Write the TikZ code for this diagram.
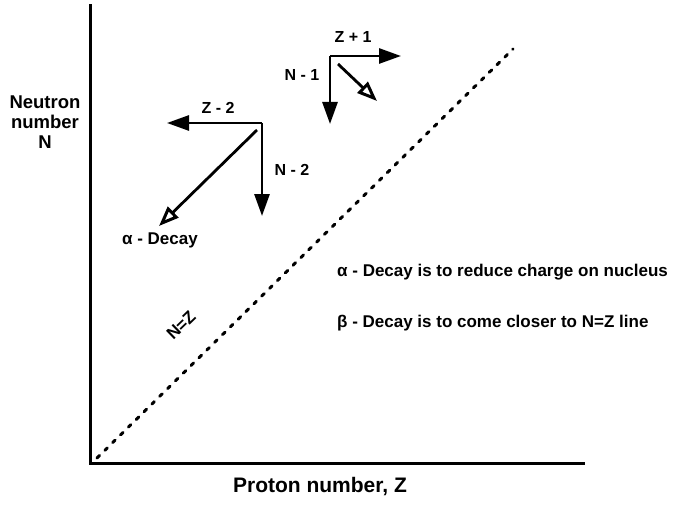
\documentclass[tikz,border=0pt]{standalone}
\usepackage{fontspec}
\setmainfont{Liberation Sans}
\usepackage{tikz}
\usetikzlibrary{arrows.meta}

\begin{document}
\begin{tikzpicture}[x=1pt, y=-1pt,
  lbl/.style={font=\fontsize{16}{20}\selectfont\bfseries, inner sep=1pt},
  note/.style={font=\fontsize{17}{20}\selectfont\bfseries, inner sep=1pt},
  axisline/.style={line width=3pt, line cap=rect},
  nzline/.style={line width=3pt, dash pattern=on 3.5pt off 7.5pt, line cap=round},
  decay/.style={line width=2.8pt, -{Triangle[length=22pt, width=15pt]}},
  decayopen/.style={line width=2.8pt, -{Triangle[open, length=20pt, width=15pt, line width=3pt]}}]
  \useasboundingbox (0,0) rectangle (674,505);
  % axes
  \coordinate (top) at (90,6);
  \coordinate (origin) at (90,463);
  \coordinate (right) at (583,463);
  \draw[axisline] (top) -- (origin) -- (right);
  \node[note, font=\fontsize{18.5}{20}\selectfont\bfseries, align=center] (ylab) at (45,122) {Neutron\\number\\N};
  \node[note, font=\fontsize{21}{24}\selectfont\bfseries] (xlab) at (320,487) {Proton number, Z};
  % N = Z line
  \coordinate (nzstart) at (97,458);
  \coordinate (nzend) at (513,49);
  \draw[nzline] (nzstart) -- (nzend);
  \node[note, rotate=44] (nzlab) at (181,325) {N=Z};
  % beta decay: Z+1, N-1
  \coordinate (beta) at (330,56);
  \coordinate (zplus) at (401,56);
  \coordinate (nminus) at (330,124);
  \coordinate (betafrom) at (338,64);
  \coordinate (betato) at (377,101);
  \draw[decay] (beta) -- (zplus);
  \draw[decay] (beta) -- (nminus);
  \draw[decayopen] (betafrom) -- (betato);
  \node[lbl] (zpluslab) at (353,37) {Z + 1};
  \node[lbl] (nminuslab) at (302,75) {N - 1};
  % alpha decay: Z-2, N-2
  \coordinate (alpha) at (262,123);
  \coordinate (ztwo) at (167,123);
  \coordinate (ntwo) at (262,216);
  \coordinate (alphafrom) at (257,130);
  \coordinate (alphato) at (159,226);
  \draw[decay] (alpha) -- (ztwo);
  \draw[decay] (alpha) -- (ntwo);
  \draw[decayopen] (alphafrom) -- (alphato);
  \node[lbl] (ztwolab) at (218,108) {Z - 2};
  \node[lbl] (ntwolab) at (292,170) {N - 2};
  \node[note] (alphalab) at (160,240) {α - Decay};
  % notes
  \node[note, anchor=west] (alphanote) at (336,272) {α - Decay is to reduce charge on nucleus};
  \node[note, anchor=west] (betanote) at (336,323) {β - Decay is to come closer to N=Z line};
\end{tikzpicture}
\end{document}
